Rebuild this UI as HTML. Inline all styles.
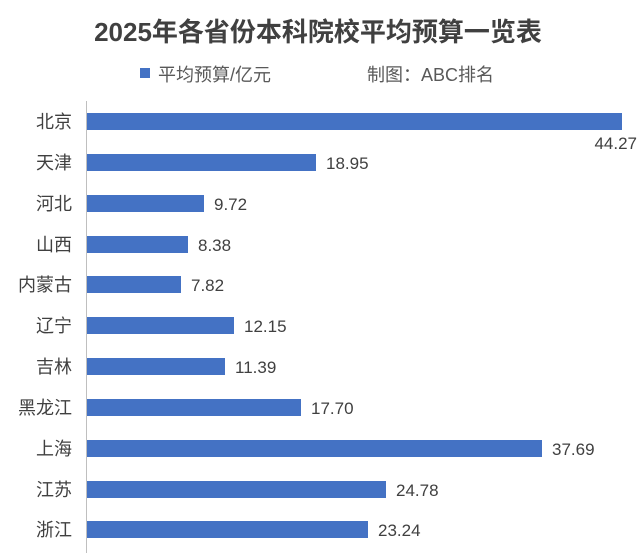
<!DOCTYPE html>
<html><head><meta charset="utf-8"><style>
body{margin:0;background:#fff;}
svg{display:block;font-family:"Liberation Sans","Noto Sans CJK SC",sans-serif;}
</style></head><body>
<svg width="640" height="553" xmlns="http://www.w3.org/2000/svg">
<text x="318" y="41" text-anchor="middle" font-size="26" font-weight="bold" fill="#404040">2025年各省份本科院校平均预算一览表</text>
<rect x="140" y="68" width="10" height="10" fill="#4472c4"/>
<text x="158" y="81" font-size="18" fill="#595959">平均预算/亿元</text>
<text x="367" y="81" font-size="18" fill="#595959">制图：ABC排名</text>
<line x1="86.5" y1="101" x2="86.5" y2="553" stroke="#bfbfbf" stroke-width="1"/>
<g fill="#4472c4">
<rect x="87" y="113" width="535" height="17"/>
<rect x="87" y="154" width="229" height="17"/>
<rect x="87" y="195" width="117" height="17"/>
<rect x="87" y="236" width="101" height="17"/>
<rect x="87" y="276" width="94" height="17"/>
<rect x="87" y="317" width="147" height="17"/>
<rect x="87" y="358" width="138" height="17"/>
<rect x="87" y="399" width="214" height="17"/>
<rect x="87" y="440" width="455" height="17"/>
<rect x="87" y="481" width="299" height="17"/>
<rect x="87" y="521" width="281" height="17"/>
</g>
<g font-size="18" fill="#404040" text-anchor="end">
<text x="72" y="128">北京</text>
<text x="72" y="169">天津</text>
<text x="72" y="210">河北</text>
<text x="72" y="251">山西</text>
<text x="72" y="291">内蒙古</text>
<text x="72" y="332">辽宁</text>
<text x="72" y="373">吉林</text>
<text x="72" y="414">黑龙江</text>
<text x="72" y="455">上海</text>
<text x="72" y="496">江苏</text>
<text x="72" y="536">浙江</text>
</g>
<g font-size="17" fill="#404040">
<text x="637" y="149" text-anchor="end">44.27</text>
<text x="326" y="169">18.95</text>
<text x="214" y="210">9.72</text>
<text x="198" y="251">8.38</text>
<text x="191" y="291">7.82</text>
<text x="244" y="332">12.15</text>
<text x="235" y="373">11.39</text>
<text x="311" y="414">17.70</text>
<text x="552" y="455">37.69</text>
<text x="396" y="496">24.78</text>
<text x="378" y="536">23.24</text>
</g>
</svg>
</body></html>
